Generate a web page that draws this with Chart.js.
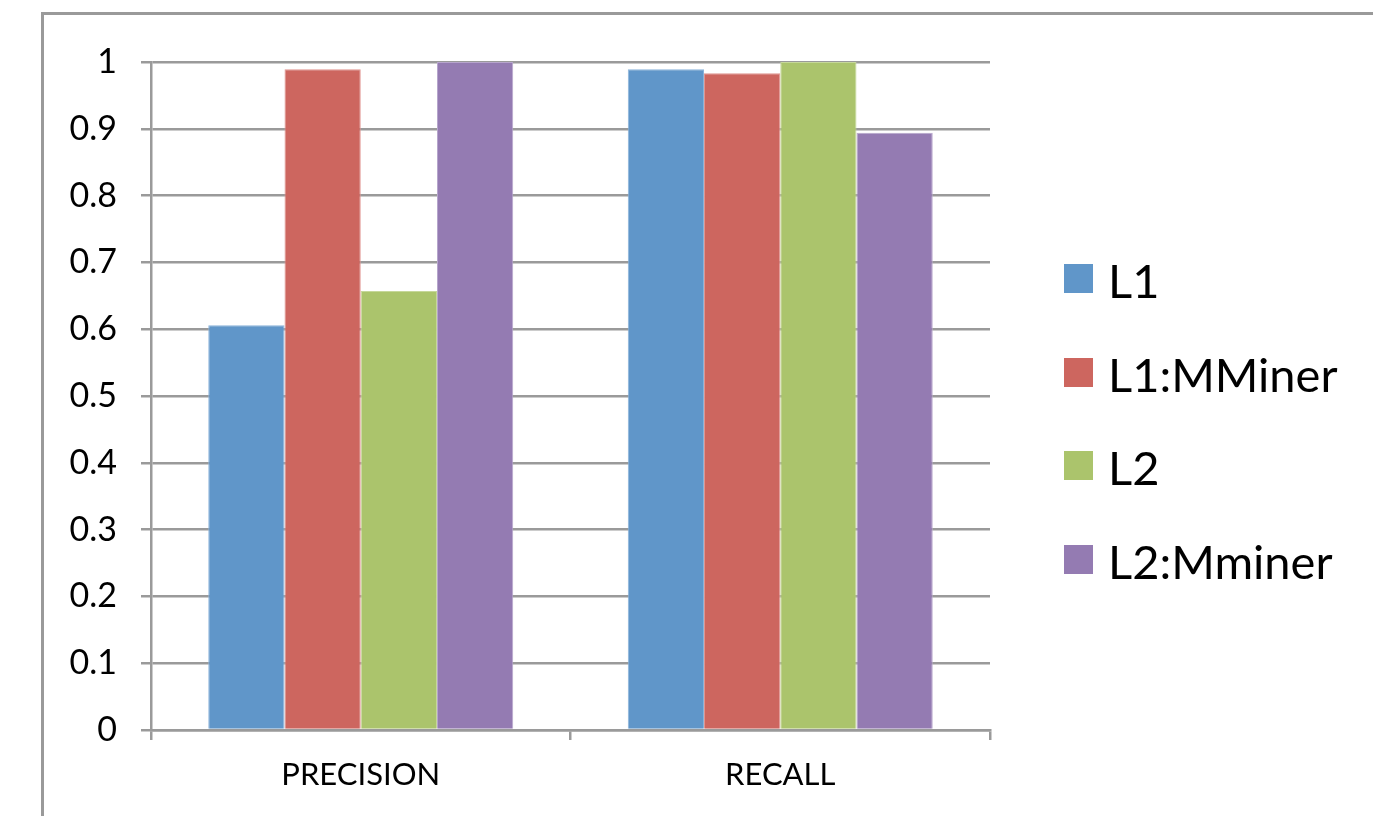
<!DOCTYPE html>
<html>
<head>
<meta charset="utf-8">
<script src="https://cdn.jsdelivr.net/npm/chart.js@4/dist/chart.umd.min.js"></script>
<style>
  html, body { margin: 0; padding: 0; background: #fff; overflow: hidden; }
  #wrap { position: relative; width: 1373px; height: 816px; }
  #frame {
    position: absolute; left: 41px; top: 12px; width: 1400px; height: 900px;
    border-left: 3px solid #9a9a9a; border-top: 3px solid #9a9a9a;
  }
  canvas { position: absolute; left: 0; top: 0; }
  .leg-box { position: absolute; width: 29px; height: 29px; }
  .leg-text {
    position: absolute; font-family: Lato, "Open Sans", sans-serif;
    font-size: 47px; line-height: 47px; color: #000; white-space: nowrap;
  }
</style>
</head>
<body>
<div id="wrap">
  <div id="frame"></div>
  <canvas id="chart" width="1373" height="816"></canvas>
  <div id="legend"></div>
</div>
<script>
// categories and series
var categories = ['PRECISION', 'RECALL'];
var seriesNames = ['L1', 'L1:MMiner', 'L2', 'L2:Mminer'];
var seriesColors = ['#6096c9', '#cd665f', '#abc46c', '#947bb2'];
var seriesEdges = ['#8ab3da', '#e09590', '#c6d89a', '#b7a6cc'];
var l1Values = [0.606, 0.989];
var l1MMinerValues = [0.989, 0.983];
var l2Values = [0.657, 1.0];
var l2MminerValues = [1.0, 0.894];
var yTicks = [0, 0.1, 0.2, 0.3, 0.4, 0.5, 0.6, 0.7, 0.8, 0.9, 1];

var seriesValues = [l1Values, l1MMinerValues, l2Values, l2MminerValues];
var gridColor = '#9a9a9a';
var fontFamily = 'Lato, "Open Sans", sans-serif';

var datasets = seriesNames.map(function(name, i) {
  return {
    label: name,
    data: seriesValues[i],
    backgroundColor: seriesColors[i],
    borderColor: seriesEdges[i],
    borderWidth: 1,
    categoryPercentage: 0.727,
    barPercentage: 1.0,
  };
});

new Chart(document.getElementById('chart'), {
  type: 'bar',
  data: { labels: categories, datasets: datasets },
  options: {
    responsive: false,
    devicePixelRatio: 1,
    animation: false,
    layout: { padding: { left: 0, top: 62, right: 383, bottom: 0 } },
    plugins: { legend: { display: false }, tooltip: { enabled: false } },
    scales: {
      x: {
        grid: {
          offset: true,
          drawOnChartArea: false,
          drawTicks: true,
          tickLength: 10,
          color: gridColor,
          lineWidth: 2.5,
        },
        border: { color: gridColor, width: 2.5 },
        ticks: { color: '#000', font: { family: fontFamily, size: 31 }, padding: 16 },
        afterFit: function(scale) { scale.height = 86; },
      },
      y: {
        min: 0,
        max: 1,
        afterBuildTicks: function(scale) {
          scale.ticks = yTicks.map(function(v) { return { value: v }; });
        },
        grid: { color: gridColor, lineWidth: 2.5, tickLength: 10 },
        border: { color: gridColor, width: 2.5 },
        ticks: {
          color: '#000',
          font: { family: fontFamily, size: 34 },
          padding: 24,
          callback: function(v) { return String(Math.round(v * 10) / 10); },
        },
        afterFit: function(scale) { scale.width = 151; },
      },
    },
  },
});

// legend on the right
var legend = document.getElementById('legend');
seriesNames.forEach(function(name, i) {
  var top = 264 + i * 93.7;
  var box = document.createElement('div');
  box.className = 'leg-box';
  box.style.left = '1064px';
  box.style.top = top + 'px';
  box.style.background = seriesColors[i];
  legend.appendChild(box);
  var txt = document.createElement('div');
  txt.className = 'leg-text';
  txt.style.left = '1108px';
  txt.style.top = (top - 7) + 'px';
  txt.textContent = name;
  legend.appendChild(txt);
});
</script>
</body>
</html>
